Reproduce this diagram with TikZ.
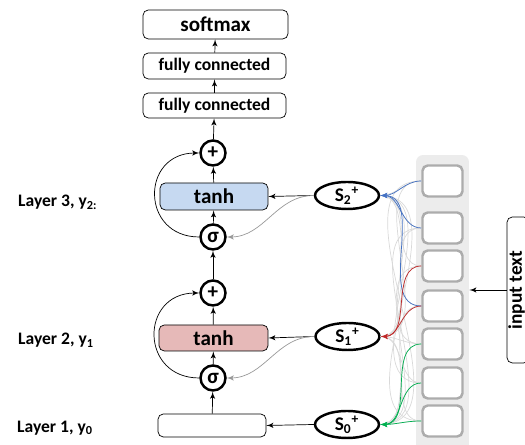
\documentclass[tikz,border=0pt]{standalone}
\usepackage{fontspec}
\setmainfont{Carlito}
\usetikzlibrary{shapes, arrows}
\definecolor{azulclaro}{RGB}{198,217,241}
\definecolor{rosaclaro}{RGB}{230,185,184}
\definecolor{azul}{RGB}{68,114,196}
\definecolor{vermelho}{RGB}{192,40,40}
\definecolor{verde}{RGB}{0,176,80}
\tikzstyle{bloco} = [rectangle, draw, text centered, rounded corners=3pt, font=\bfseries, inner sep=0pt]
\tikzstyle{operador} = [circle, draw, line width=1.4pt, inner sep=0pt, minimum size=0.5cm, font=\bfseries\large]
\tikzstyle{estado} = [ellipse, draw, line width=1.4pt, inner sep=0pt, minimum width=1.28cm, minimum height=0.54cm, font=\bfseries\fontsize{11}{13}\selectfont]
\tikzstyle{palavra} = [rectangle, draw=gray!65, line width=1.4pt, rounded corners=3pt, fill=white, minimum width=0.8cm, minimum height=0.62cm]
\tikzstyle{rotulo} = [anchor=west, font=\bfseries]
\tikzstyle{connector} = [draw, -latex']
\tikzstyle{atalho} = [draw, gray!80, -latex']
\tikzstyle{ligacao} = [draw, gray!30, thin]

\begin{document}
\begin{tikzpicture}[x=0.02cm, y=0.02cm] %cada unidade vale um pixel da figura

\useasboundingbox (0,0) rectangle (525,445);
\clip (0,0) rectangle (525,445);

%---------------------------------------------
%Coluna das palavras de entrada
%---------------------------------------------
\node [rectangle, fill=gray!15, rounded corners=4pt, minimum width=1.06cm, minimum height=6cm] at (442.5,140) (coluna) {};

\node [palavra] at (442.5,264) (p1) {};
\node [palavra] at (442.5,217) (p2) {};
\node [palavra] at (442.5,179) (p3) {};
\node [palavra] at (442.5,139) (p4) {};
\node [palavra] at (442.5,101) (p5) {};
\node [palavra] at (442.5,62) (p6) {};
\node [palavra] at (442.5,24) (p7) {};

\node [bloco, minimum width=0.44cm, minimum height=2.92cm] at (518,155) (entrada) {};
\node [rotate=90, inner sep=0pt, font=\bfseries\fontsize{11}{13}\selectfont] at (516.5,155) (textoentrada) {input text};

%---------------------------------------------
%Blocos da rede
%---------------------------------------------
\node [bloco, minimum width=2.9cm, minimum height=0.58cm, font=\bfseries\large] at (215.5,420.5) (softmax) {softmax};
\node [bloco, minimum width=2.86cm, minimum height=0.52cm] at (214.5,379) (denso1) {fully connected};
\node [bloco, minimum width=2.86cm, minimum height=0.5cm] at (214.5,339.5) (denso2) {fully connected};

\node [operador] at (213,292) (soma3) {+};
\node [bloco, fill=azulclaro, minimum width=2.16cm, minimum height=0.54cm, font=\bfseries\large] at (214,248.5) (tanh3) {tanh};
\node [operador] at (213,208) (sigma3) {σ};

\node [operador] at (213,152) (soma2) {+};
\node [bloco, fill=rosaclaro, minimum width=2.18cm, minimum height=0.52cm, font=\bfseries\large] at (213.5,107) (tanh2) {tanh};
\node [operador] at (213,67) (sigma2) {σ};

\node [bloco, minimum width=2.16cm, minimum height=0.46cm] at (212,19.5) (camada1) {};

\node [estado] at (347,249.5) (s2) {S\textsubscript{2}\textsuperscript{+}};
\node [estado] at (347.5,108.5) (s1) {S\textsubscript{1}\textsuperscript{+}};
\node [estado] at (347,20.5) (s0) {S\textsubscript{0}\textsuperscript{+}};

%---------------------------------------------
%Legendas das camadas
%---------------------------------------------
\node [rotulo] at (12,243) (legenda3) {Layer 3, y\textsubscript{2:}};
\node [rotulo] at (12,105) (legenda2) {Layer 2, y\textsubscript{1}};
\node [rotulo] at (11,17) (legenda1) {Layer 1, y\textsubscript{0}};

%---------------------------------------------
%Ligacoes entre palavras e estados
%---------------------------------------------
\foreach \p in {1,...,7}
  \foreach \s in {0,1,2}
    \path [ligacao] (p\p.west) to[out=180, in=0] (s\s.east);

\foreach \p in {1,2,4}
  \path [connector, azul] (p\p.west) to[out=180, in=0] (s2.east);
\foreach \p in {3,4}
  \path [connector, vermelho] (p\p.west) to[out=180, in=0] (s1.east);
\foreach \p in {5,6,7}
  \path [connector, verde] (p\p.west) to[out=180, in=0] (s0.east);

\path [connector] (entrada.west) -- (entrada.west -| coluna.east);

%---------------------------------------------
%Conexao e flechas da rede
%---------------------------------------------
\path [connector] (denso1) -- (softmax);
\path [connector] (denso2) -- (denso1);
\path [connector] (soma3) -- (denso2);
\path [connector] (tanh3) -- (soma3);
\path [connector] (sigma3) -- (tanh3);
\path [connector] (soma2) -- (sigma3);
\path [connector] (tanh2) -- (soma2);
\path [connector] (sigma2) -- (tanh2);
\path [connector] (camada1) -- (sigma2);

\path [connector] (s2.west) -- (tanh3.east);
\path [connector] (s1.west) -- (tanh2.east);
\path [connector] (s0.west) -- (camada1.east);

\path [atalho] (s2.west) to[out=180, in=0] (sigma3.east);
\path [atalho] (s1.west) to[out=180, in=0] (sigma2.east);

\path [connector] (sigma3.west) to[out=180, in=180, looseness=1.8] (soma3.west);
\path [connector] (sigma2.west) to[out=180, in=180, looseness=1.8] (soma2.west);

\end{tikzpicture}
\end{document}
